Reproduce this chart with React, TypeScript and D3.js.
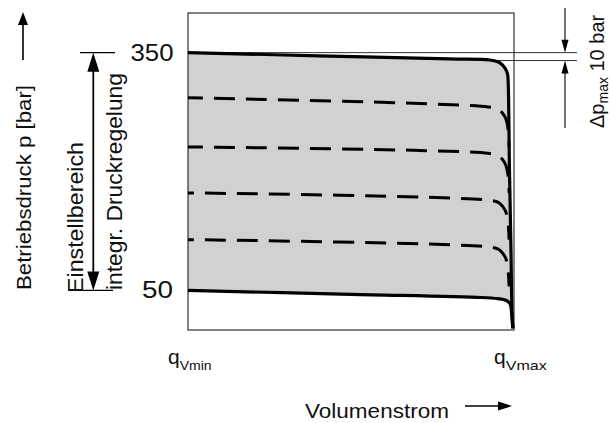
import React from 'react';
import * as d3 from 'd3';

// ---- data (flow in % of qVmax, pressure in bar) ----
const flowDomain = [0, 100];
const pressureDomain = [0, 400];
const pressureTicks = [350, 50];
const pressureTickLabels = ['350', '50'];
const flowTicks = [0, 100];
const flowTickSubs = ['Vmin', 'Vmax'];

const maxCurveQ = [0, 40, 80, 92.6, 95.4, 96.5, 97.4, 97.97, 98.16, 98.62, 99.08, 99.4, 99.7];
const maxCurveP = [350, 346, 342, 340.7, 337.8, 334.1, 329.3, 323.9, 318, 200, 100, 20, 2];

const minCurveQ = [0, 50, 90, 95, 97.5, 98.8, 99.3, 99.6];
const minCurveP = [50, 45, 41, 39.5, 37.5, 33, 20, 2];

const dashedQ = [0, 92, 95.2, 96.5, 97.5, 98.1, 98.5];
const dashed1P = [293, 281.5, 278.5, 273.5, 266.5, 255.5, 231.5];
const dashed2P = [231, 223, 220, 215, 208, 197, 173];
const dashed3P = [173, 164, 161, 156, 149, 138, 114];
const dashed4P = [114, 105, 102, 97, 90, 79, 55];
const dashedSeries = [dashed1P, dashed2P, dashed3P, dashed4P];

const deltaPMax = 10; // bar

const FONT = '"Liberation Sans", Arial, Helvetica, sans-serif';

export default function App() {
  const x = d3.scaleLinear().domain(flowDomain).range([188, 514]);
  const y = d3.scaleLinear().domain(pressureDomain).range([330, 13]);

  const toPts = (qs: number[], ps: number[]) => qs.map((q, i) => [q, ps[i]] as [number, number]);

  const curve = d3.curveCatmullRom.alpha(0.5);
  const line = d3
    .line<[number, number]>()
    .x((d) => x(d[0]))
    .y((d) => y(d[1]))
    .curve(curve);

  const area = d3
    .area<[number, number]>()
    .x((d) => x(d[0]))
    .y0(y(0))
    .y1((d) => y(d[1]))
    .curve(d3.curveMonotoneX);

  const maxPts = toPts(maxCurveQ, maxCurveP);
  const minPts = toPts(minCurveQ, minCurveP);

  const yTop = y(pressureTicks[0]);
  const yBot = y(pressureTicks[1]);
  const yDelta = y(pressureTicks[0] - deltaPMax);

  const dimX = 565;
  const arrowDown = (cx: number, tipY: number, len: number, w: number) =>
    `M${cx},${tipY} L${cx - w / 2},${tipY - len} L${cx + w / 2},${tipY - len} Z`;
  const arrowUp = (cx: number, tipY: number, len: number, w: number) =>
    `M${cx},${tipY} L${cx - w / 2},${tipY + len} L${cx + w / 2},${tipY + len} Z`;

  // gray region: closed path following max curve then min curve back
  const regionPath = (line(maxPts) || '') + 'L' + (line([...minPts].reverse()) || '').slice(1) + 'Z';

  return (
    <svg
      width={611}
      height={423}
      style={{ position: 'absolute', left: 0, top: 0, background: '#fff' }}
      fontFamily={FONT}
    >
      <rect x={0} y={0} width={611} height={423} fill="#fff" />
      {/* gray operating region */}
      <path d={regionPath} fill="#d1d1d1" />

      {/* plot frame */}
      <rect
        x={x(flowDomain[0])}
        y={y(pressureDomain[1])}
        width={x(flowDomain[1]) - x(flowDomain[0])}
        height={y(pressureDomain[0]) - y(pressureDomain[1])}
        fill="none"
        stroke="#333"
        strokeWidth={1.2}
      />

      {/* delta p reference lines */}
      <line x1={x(0)} x2={577} y1={yTop} y2={yTop} stroke="#333" strokeWidth={1} />
      <line x1={x(91)} x2={577} y1={yDelta} y2={yDelta} stroke="#333" strokeWidth={1} />

      {/* dashed intermediate settings */}
      {dashedSeries.map((ps, i) => (
        <path
          key={i}
          d={line(toPts(dashedQ, ps)) || ''}
          fill="none"
          stroke="#000"
          strokeWidth={3}
          strokeDasharray="21 11"
          strokeDashoffset={i < 2 ? 6 : 15}
        />
      ))}

      {/* max & min setting curves */}
      <path d={line(maxPts) || ''} fill="none" stroke="#000" strokeWidth={3.2} strokeLinejoin="round" />
      <path d={line(minPts) || ''} fill="none" stroke="#000" strokeWidth={3.2} strokeLinejoin="round" />

      {/* y tick labels */}
      {pressureTicks.map((p, i) => (
        <text
          key={p}
          x={i === 0 ? 130.5 : 142}
          y={y(p) + 8}
          fontSize={23}
          textLength={i === 0 ? 43 : 31}
          lengthAdjust="spacingAndGlyphs"
          fill="#111"
        >
          {pressureTickLabels[i]}
        </text>
      ))}

      {/* x tick labels */}
      {flowTicks.map((q, i) => (
        <text key={q} x={x(q) - 20} y={364} fontSize={21} fill="#111">
          q
          <tspan dy={6} fontSize={13.5} textLength={i === 0 ? 32 : 41} lengthAdjust="spacingAndGlyphs">
            {flowTickSubs[i]}
          </tspan>
        </text>
      ))}

      {/* y axis title with arrow */}
      <text
        transform="translate(31,290) rotate(-90)"
        fontSize={21}
        textLength={205}
        lengthAdjust="spacingAndGlyphs"
        fill="#111"
      >
        Betriebsdruck p [bar]
      </text>
      <line x1={23} x2={23} y1={60} y2={24} stroke="#000" strokeWidth={1.6} />
      <path d={arrowUp(23, 12, 13, 10)} fill="#000" />

      {/* setting range double arrow */}
      <line x1={80} x2={115} y1={yTop} y2={yTop} stroke="#000" strokeWidth={1.2} />
      <line x1={80} x2={113} y1={yBot} y2={yBot} stroke="#000" strokeWidth={1.2} />
      <line x1={93.3} x2={93.3} y1={yTop + 15} y2={yBot - 15} stroke="#000" strokeWidth={1.8} />
      <path d={arrowUp(93.3, yTop, 19, 12)} fill="#000" />
      <path d={arrowDown(93.3, yBot, 19, 12)} fill="#000" />
      <text
        transform={`translate(83,293) rotate(-90)`}
        fontSize={22}
        textLength={151}
        lengthAdjust="spacingAndGlyphs"
        fill="#111"
      >
        Einstellbereich
      </text>
      <text
        transform={`translate(121.7,290) rotate(-90)`}
        fontSize={22}
        textLength={217}
        lengthAdjust="spacingAndGlyphs"
        fill="#111"
      >
        integr. Druckregelung
      </text>

      {/* delta p max dimension */}
      <line x1={dimX} x2={dimX} y1={8} y2={yTop - 12} stroke="#000" strokeWidth={1.1} />
      <path d={arrowDown(dimX, yTop, 13, 7)} fill="#000" />
      <line x1={dimX} x2={dimX} y1={yDelta + 12} y2={128} stroke="#000" strokeWidth={1.1} />
      <path d={arrowUp(dimX, yDelta, 13, 7)} fill="#000" />
      <text transform="translate(603.5,128) rotate(-90)" fontSize={20} fill="#111">
        Δp
        <tspan fontSize={14} dy={4}>max</tspan>
        <tspan dy={-4}>{` ${deltaPMax} bar`}</tspan>
      </text>

      {/* x axis title with arrow */}
      <text x={305} y={417.7} fontSize={21} textLength={144} lengthAdjust="spacingAndGlyphs" fill="#111">
        Volumenstrom
      </text>
      <line x1={465} x2={500} y1={406} y2={406} stroke="#000" strokeWidth={1.6} />
      <path d="M512,406 L498,401.5 L498,410.5 Z" fill="#000" />
    </svg>
  );
}
